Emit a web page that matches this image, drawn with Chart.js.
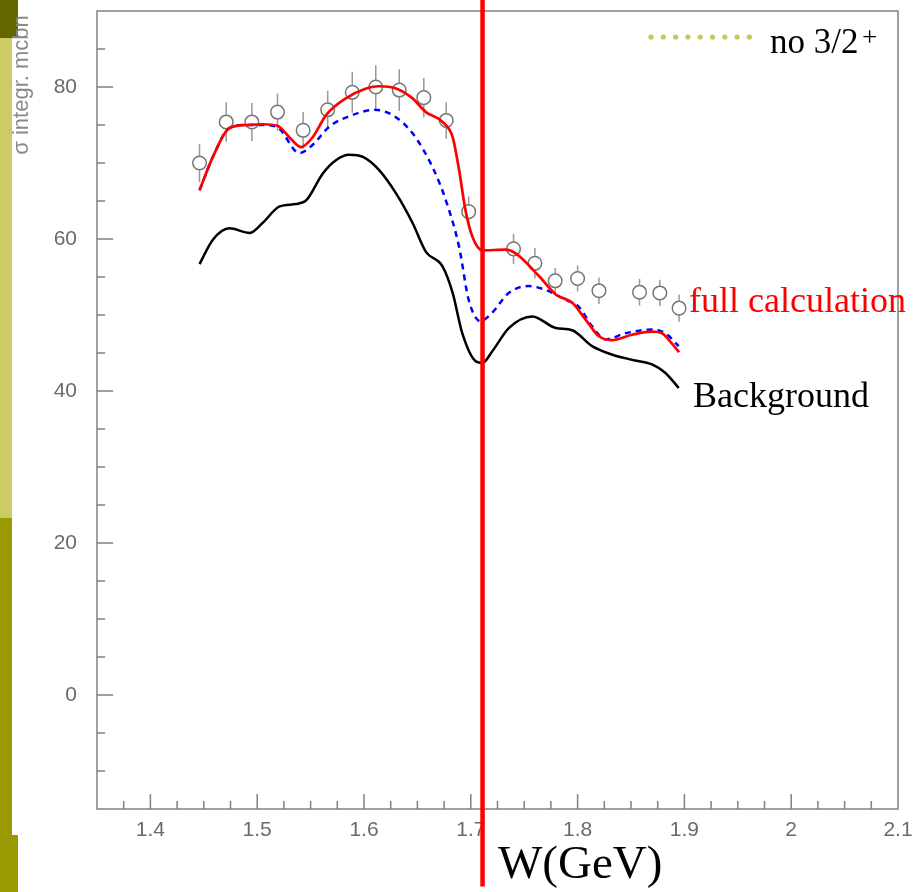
<!DOCTYPE html>
<html>
<head>
<meta charset="utf-8">
<script src="https://cdn.jsdelivr.net/npm/chart.js@4.4.1/dist/chart.umd.min.js"></script>
<style>
html, body { margin: 0; padding: 0; background: #fff; }
canvas { display: block; }
</style>
</head>
<body>
<canvas id="canvas" width="913" height="892"></canvas>
<script>
// measured cross sections (open circles) with errors
const dataW     = [1.446, 1.471, 1.495, 1.519, 1.543, 1.566, 1.589, 1.611, 1.633, 1.656, 1.677, 1.698, 1.740, 1.760, 1.779, 1.800, 1.820, 1.858, 1.877, 1.895];
const dataSigma = [70.0, 75.4, 75.4, 76.7, 74.3, 77.0, 79.3, 80.0, 79.6, 78.6, 75.6, 63.6, 58.7, 56.8, 54.5, 54.8, 53.2, 53.0, 52.9, 50.9];
const dataErr   = [2.5, 2.6, 2.5, 2.45, 2.4, 2.5, 2.7, 2.85, 2.75, 2.6, 2.4, 2.0, 2.0, 2.0, 1.7, 1.7, 1.75, 1.75, 1.75, 1.8];

// full calculation (red)
const fullW     = [1.446, 1.4585, 1.474, 1.490, 1.505, 1.519, 1.530, 1.541, 1.552, 1.5645, 1.583, 1.602, 1.614, 1.630, 1.6455, 1.658, 1.6735, 1.683, 1.689, 1.695, 1.7015, 1.711, 1.7327, 1.742, 1.764, 1.7795, 1.795, 1.8075, 1.820, 1.832, 1.851, 1.8697, 1.879, 1.888, 1.895];
const fullSigma = [66.4, 70.8, 74.6, 75.0, 75.1, 74.9, 73.4, 72.1, 73.4, 76.3, 78.5, 79.8, 80.1, 79.8, 78.5, 76.7, 75.4, 73.4, 69.1, 63.8, 60.3, 58.5, 58.6, 58.1, 55.1, 52.7, 51.6, 49.4, 47.2, 46.7, 47.4, 47.8, 47.6, 46.3, 45.1];

// dashed blue curve
const dashW     = [1.446, 1.4585, 1.474, 1.490, 1.505, 1.519, 1.5395, 1.552, 1.5676, 1.589, 1.6096, 1.6267, 1.6455, 1.664, 1.6766, 1.689, 1.698, 1.709, 1.720, 1.7355, 1.754, 1.770, 1.7888, 1.801, 1.8136, 1.826, 1.845, 1.8697, 1.882, 1.8947];
const dashSigma = [66.4, 70.8, 74.6, 75.0, 75.0, 74.7, 71.3, 72.4, 74.8, 76.3, 77.0, 76.3, 73.9, 69.5, 65.1, 59.0, 52.0, 49.2, 50.3, 52.9, 53.8, 53.3, 52.0, 51.1, 48.5, 46.8, 47.6, 48.1, 47.6, 45.9];

// background (black)
const bgW     = [1.446, 1.4585, 1.474, 1.493, 1.505, 1.521, 1.5365, 1.546, 1.5613, 1.574, 1.586, 1.599, 1.614, 1.630, 1.6455, 1.658, 1.6735, 1.683, 1.692, 1.7047, 1.711, 1.720, 1.7358, 1.7576, 1.7795, 1.795, 1.8136, 1.832, 1.851, 1.8697, 1.882, 1.8947];
const bgSigma = [56.7, 59.9, 61.4, 60.8, 62.1, 64.3, 64.6, 65.1, 68.6, 70.4, 71.1, 70.8, 69.1, 66.0, 62.1, 58.3, 56.4, 52.9, 47.6, 43.9, 43.7, 45.2, 48.3, 49.8, 48.3, 48.0, 45.9, 44.8, 44.1, 43.5, 42.4, 40.4];

// red vertical marker
const markerW = 1.711;
const markerSigma = [91.5, -25.2];

const xTickLabels = [1.4, 1.5, 1.6, 1.7, 1.8, 1.9, 2.0, 2.1];
const yTickLabels = [0, 20, 40, 60, 80];

const pts = (xs, ys) => xs.map((x, i) => ({ x: x, y: ys[i] }));

const errBars = [];
dataW.forEach((w, i) => {
    errBars.push({ x: w, y: dataSigma[i] - dataErr[i] });
    errBars.push({ x: w, y: dataSigma[i] + dataErr[i] });
    errBars.push({ x: w, y: null });
});

function noPad(s) {
    s.paddingTop = 0; s.paddingBottom = 0;
    s.paddingLeft = 0; s.paddingRight = 0;
}

// slide stripes, frame, inward ticks, axis title
const decor = {
    id: 'decor',
    beforeDraw(chart) {
        const c = chart.ctx;
        c.save();
        c.fillStyle = '#fff';
        c.fillRect(0, 0, chart.width, chart.height);
        c.fillStyle = '#666600'; c.fillRect(0, 0, 18, 38);
        c.fillStyle = '#cccc66'; c.fillRect(0, 38, 12, 480);
        c.fillStyle = '#999900'; c.fillRect(0, 518, 12, 317);
        c.fillRect(0, 835, 18, 57);

        c.translate(22, 85);
        c.rotate(-Math.PI / 2);
        c.fillStyle = '#8a8a8a';
        c.font = '22px "Liberation Sans"';
        c.textAlign = 'center';
        c.textBaseline = 'middle';
        c.fillText('σ integr. mcbn', 0, 0);
        c.restore();
    },
    beforeDatasetsDraw(chart) {
        const c = chart.ctx, a = chart.chartArea;
        const xs = chart.scales.x, ys = chart.scales.y;
        c.save();
        c.strokeStyle = '#808080';
        c.lineWidth = 1.5;
        c.strokeRect(a.left, a.top, a.right - a.left, a.bottom - a.top);
        c.beginPath();
        for (let v = -10; v <= 85; v += 5) {
            const y = ys.getPixelForValue(v);
            c.moveTo(a.left, y);
            c.lineTo(a.left + (v % 20 === 0 ? 16 : 8), y);
        }
        for (let k = 1; k < 30; k++) {
            const v = 1.35 + k * 0.025;
            const x = xs.getPixelForValue(v);
            c.moveTo(x, a.bottom);
            c.lineTo(x, a.bottom - (k % 4 === 2 ? 15 : 8));
        }
        c.stroke();
        c.restore();
    },
    afterDraw(chart) {
        const c = chart.ctx;
        c.save();
        c.textBaseline = 'alphabetic';
        c.textAlign = 'left';
        c.fillStyle = '#c8c85a';
        for (let i = 0; i < 9; i++) {
            c.beginPath();
            c.arc(651 + i * 12.3, 37, 2.6, 0, Math.PI * 2);
            c.fill();
        }
        c.fillStyle = '#000';
        c.font = '35px "Liberation Serif"';
        c.fillText('no 3/2', 770, 53);
        c.font = '27px "Liberation Serif"';
        c.fillText('+', 862, 46);
        c.fillStyle = '#ff0000';
        c.font = '36px "Liberation Serif"';
        c.fillText('full calculation', 689, 312);
        c.fillStyle = '#000';
        c.fillText('Background', 693, 407);
        c.font = '47px "Liberation Serif"';
        c.fillText('W(GeV)', 498, 878);
        c.restore();
    }
};

const ctx = document.getElementById('canvas').getContext('2d');
const chart = new Chart(ctx, {
    type: 'scatter',
    data: {
        datasets: [
            {
                data: markerSigma.map(s => ({ x: markerW, y: s })),
                showLine: true, borderColor: '#ff0000', borderWidth: 4.5,
                pointRadius: 0, clip: false
            },
            {
                data: pts(fullW, fullSigma),
                showLine: true, borderColor: '#ff0000', borderWidth: 2.7,
                pointRadius: 0, cubicInterpolationMode: 'monotone'
            },
            {
                data: pts(dashW, dashSigma),
                showLine: true, borderColor: '#0000ff', borderWidth: 2.5, borderDash: [6, 5],
                pointRadius: 0, cubicInterpolationMode: 'monotone'
            },
            {
                data: pts(bgW, bgSigma),
                showLine: true, borderColor: '#000', borderWidth: 2.5,
                pointRadius: 0, cubicInterpolationMode: 'monotone'
            },
            {
                data: pts(dataW, dataSigma),
                pointStyle: 'circle', pointRadius: 6.8, borderWidth: 1.5,
                borderColor: '#777', backgroundColor: '#fff'
            },
            {
                data: errBars,
                showLine: true, spanGaps: false, borderColor: '#999', borderWidth: 1.5,
                pointRadius: 0
            }
        ]
    },
    options: {
        responsive: false,
        animation: false,
        events: [],
        layout: { autoPadding: false, padding: { top: 11, right: 15, left: 0, bottom: 0 } },
        plugins: { legend: { display: false }, tooltip: { enabled: false } },
        scales: {
            x: {
                type: 'linear', min: 1.35, max: 2.1,
                afterBuildTicks: s => { s.ticks = xTickLabels.map(v => ({ value: v })); },
                afterFit: s => { s.height = 83; noPad(s); },
                grid: { display: false, drawTicks: false },
                border: { display: false },
                ticks: {
                    color: '#6a6a6a', padding: 9, maxRotation: 0, autoSkip: false,
                    font: { family: 'Liberation Sans', size: 21 },
                    callback: v => String(Math.round(v * 10) / 10)
                }
            },
            y: {
                min: -15, max: 90,
                afterBuildTicks: s => { s.ticks = yTickLabels.map(v => ({ value: v })); },
                afterFit: s => { s.width = 97; noPad(s); },
                grid: { display: false, drawTicks: false },
                border: { display: false },
                ticks: {
                    color: '#6a6a6a', padding: 20, autoSkip: false,
                    font: { family: 'Liberation Sans', size: 21 }
                }
            }
        }
    },
    plugins: [decor]
});
</script>
</body>
</html>
